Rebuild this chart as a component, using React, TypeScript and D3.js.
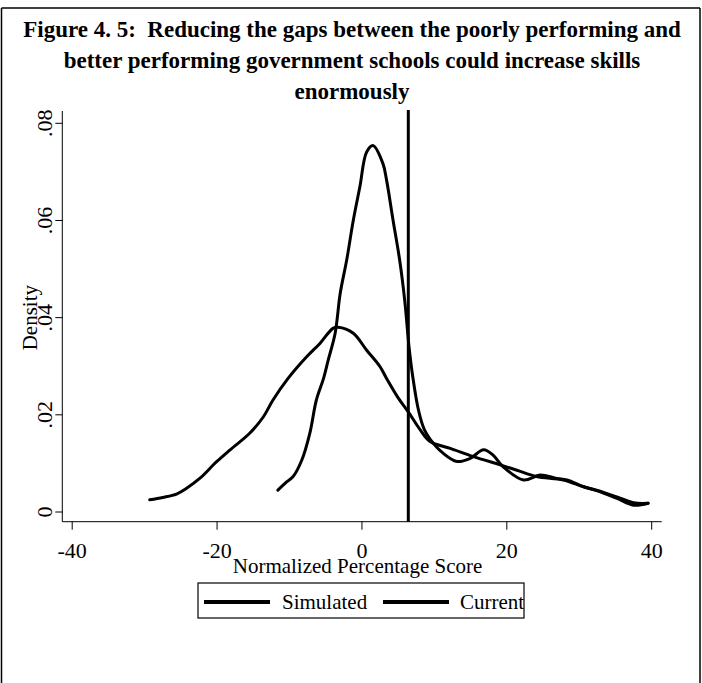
import React from "react";
import * as d3 from "d3";

const titleLines = [
  "Figure 4. 5:\u00a0\u00a0Reducing the gaps between the poorly performing and",
  "better performing government schools could increase skills",
  "enormously",
];
const xTicks = [-40, -20, 0, 20, 40];
const yTicks = [0, 0.02, 0.04, 0.06, 0.08];
const yTickLabels = ["0", ".02", ".04", ".06", ".08"];
const xTitle = "Normalized Percentage Score";
const yTitle = "Density";
const seriesNames = ["Simulated", "Current"];
const cutoff = 6.4;

// Simulated (narrow peaked, wiggly tail)
const simX = [-11.6, -10.4, -9.5, -8.3, -7.2, -6.3, -5.3, -4.65, -3.7, -3.0, -2.1, -1.2, -0.28, 0.65, 1.56, 2.9, 3.4, 4.3, 5.2, 5.9, 6.5, 7.0, 7.8, 8.6, 9.4, 11.2, 13.1, 14.9, 16.8, 18.1, 19.5, 22.3, 24.6, 26.9, 28.3, 30.6, 32.4, 35.2, 37.5, 39.5];
const simY = [0.0045, 0.0062, 0.0073, 0.0107, 0.0162, 0.023, 0.0275, 0.0313, 0.0368, 0.045, 0.0519, 0.06, 0.067, 0.0741, 0.0754, 0.0717, 0.0683, 0.06, 0.0519, 0.0436, 0.034, 0.028, 0.021, 0.017, 0.0150, 0.0121, 0.0104, 0.011, 0.0128, 0.0117, 0.0093, 0.0066, 0.0076, 0.0069, 0.0066, 0.0052, 0.0044, 0.0028, 0.0014, 0.0018];

// Current (wide)
const curX = [-29.3, -27.5, -25.6, -24.2, -22.4, -20.1, -18.2, -15.5, -13.6, -12.3, -10.2, -7.6, -5.8, -4.0, -3.3, -1.2, 0.65, 2.5, 3.4, 5.0, 6.4, 8.0, 9.4, 12.2, 15.4, 19.1, 21.4, 24.1, 27.8, 30.6, 32.4, 35.2, 37.5, 39.5];
const curY = [0.0025, 0.003, 0.0037, 0.0049, 0.0069, 0.0103, 0.0128, 0.0162, 0.0196, 0.023, 0.0275, 0.032, 0.0347, 0.0378, 0.038, 0.0368, 0.0333, 0.0299, 0.0275, 0.0235, 0.0206, 0.017, 0.0145, 0.0131, 0.0114, 0.0097, 0.0086, 0.0073, 0.0066, 0.0052, 0.0045, 0.0031, 0.0019, 0.0018];

const W = 702;
const H = 683;
const FONT = "'Liberation Serif', 'Times New Roman', serif";

export default function App() {
  const x = d3.scaleLinear().domain([-40, 40]).range([72.2, 651.7]);
  const y = d3.scaleLinear().domain([0, 0.08]).range([512, 123.3]);
  const axisLeft = 62.3;
  const axisBottom = 521.7;
  const axisRight = 661.7;
  const axisTop = 111;

  const line = d3
    .line<[number, number]>()
    .x((d) => x(d[0]))
    .y((d) => y(d[1]))
    .curve(d3.curveCatmullRom.alpha(0.5));

  const sim = simX.map((v, i) => [v, simY[i]] as [number, number]);
  const cur = curX.map((v, i) => [v, curY[i]] as [number, number]);

  return (
    <svg
      width={W}
      height={H}
      style={{ position: "absolute", left: 0, top: 0, background: "#fff" }}
      fontFamily={FONT}
    >
      <rect x={0} y={0} width={W} height={H} fill="#fff" />
      {/* frame */}
      <line x1={1.5} y1={8} x2={1.5} y2={H} stroke="#000" strokeWidth={1.5} />
      <line x1={700} y1={8} x2={700} y2={H} stroke="#000" strokeWidth={1.5} />
      <line x1={1.5} y1={8} x2={700} y2={8} stroke="#000" strokeWidth={1.5} />

      {titleLines.map((t, i) => (
        <text
          key={i}
          x={352}
          y={37 + i * 31}
          textAnchor="middle"
          fontWeight="bold"
          fontSize={23}
        >
          {t}
        </text>
      ))}

      {/* axes */}
      <line x1={axisLeft} y1={axisTop} x2={axisLeft} y2={axisBottom} stroke="#000" strokeWidth={1} />
      <line x1={axisLeft} y1={axisBottom} x2={axisRight} y2={axisBottom} stroke="#000" strokeWidth={1} />
      {xTicks.map((t) => (
        <g key={t}>
          <line x1={x(t)} x2={x(t)} y1={axisBottom} y2={axisBottom + 8} stroke="#000" />
          <text x={x(t)} y={axisBottom + 36} textAnchor="middle" fontSize={22}>
            {t}
          </text>
        </g>
      ))}
      {yTicks.map((t, i) => (
        <g key={t}>
          <line x1={axisLeft - 7} x2={axisLeft} y1={y(t)} y2={y(t)} stroke="#000" />
          <text
            transform={`translate(${axisLeft - 10},${y(t)}) rotate(-90)`}
            textAnchor="middle"
            fontSize={22}
          >
            {yTickLabels[i]}
          </text>
        </g>
      ))}
      <text
        transform={`translate(${axisLeft - 25},${y(0.04)}) rotate(-90)`}
        textAnchor="middle"
        fontSize={21}
      >
        {yTitle}
      </text>
      <text x={357.5} y={573} textAnchor="middle" fontSize={21}>
        {xTitle}
      </text>

      {/* cutoff line */}
      <line x1={x(cutoff)} x2={x(cutoff)} y1={axisBottom} y2={110} stroke="#000" strokeWidth={3} />

      {/* curves */}
      <path d={line(cur) || ""} fill="none" stroke="#000" strokeWidth={3} strokeLinejoin="round" strokeLinecap="round" />
      <path d={line(sim) || ""} fill="none" stroke="#000" strokeWidth={3} strokeLinejoin="round" strokeLinecap="round" />

      {/* legend */}
      <rect x={198} y={583} width={326} height={35} fill="none" stroke="#000" strokeWidth={1.2} />
      <line x1={204} x2={270} y1={602} y2={602} stroke="#000" strokeWidth={4} />
      <text x={282} y={609} fontSize={21}>
        {seriesNames[0]}
      </text>
      <line x1={383} x2={449} y1={602} y2={602} stroke="#000" strokeWidth={4} />
      <text x={460} y={609} fontSize={21}>
        {seriesNames[1]}
      </text>
    </svg>
  );
}
